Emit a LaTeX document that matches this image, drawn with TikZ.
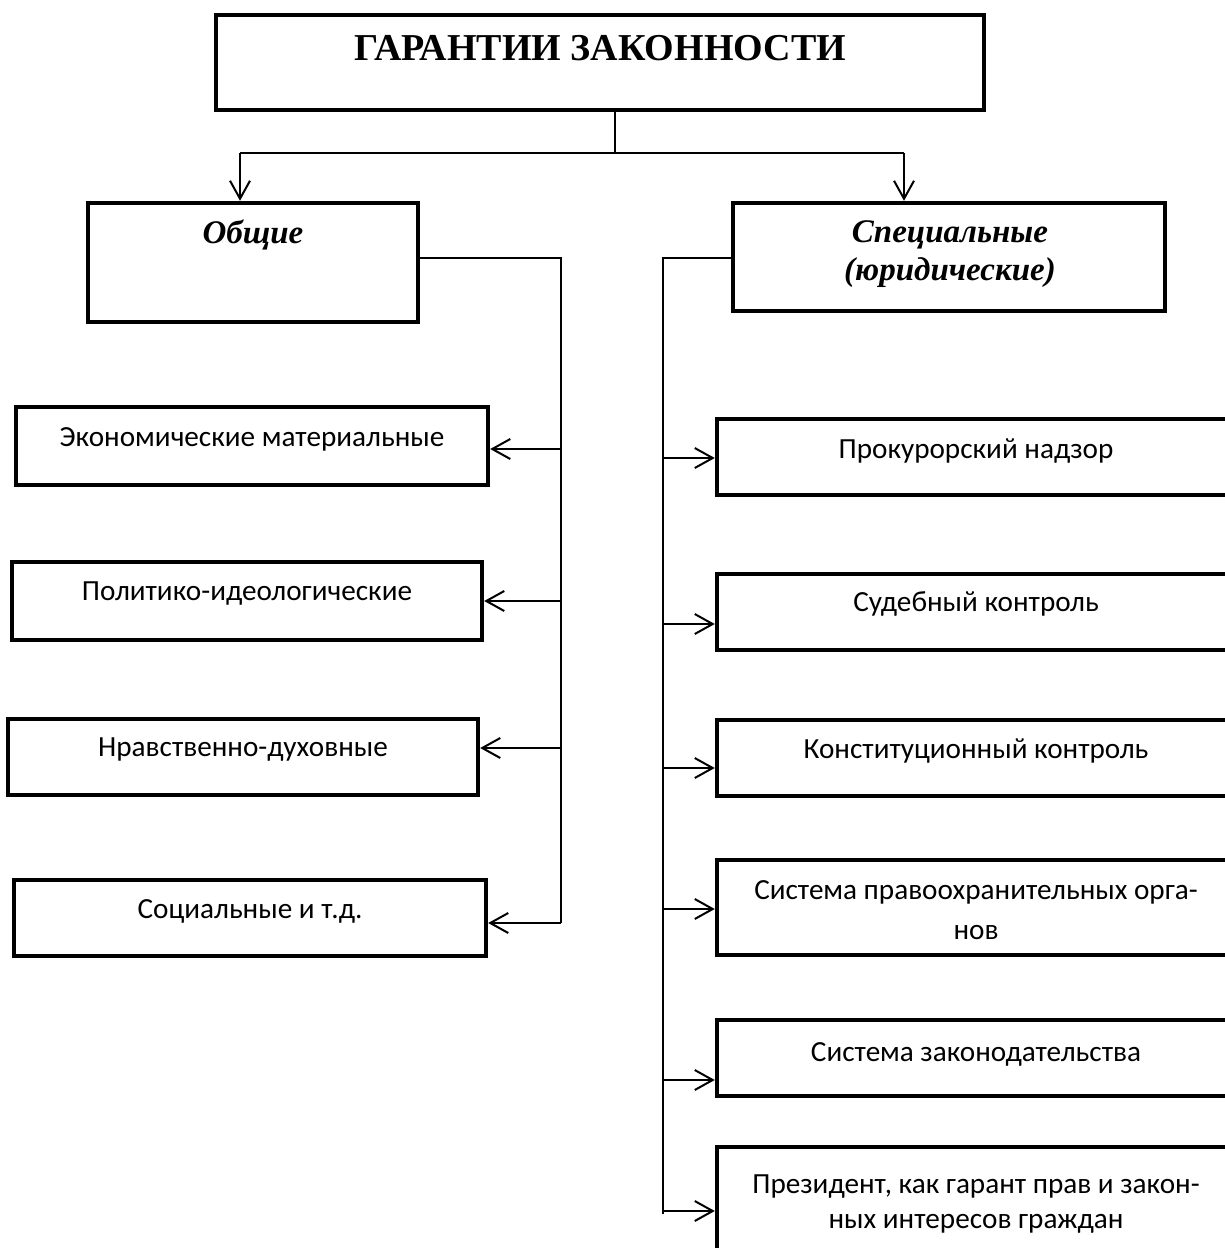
\documentclass[tikz,border=0pt]{standalone}
\usepackage{fontspec}
\setmainfont{Liberation Serif}
\newfontfamily\calfont{Carlito}
\usetikzlibrary{arrows.meta,fit}
\tikzset{
  box/.style={draw, line width=2.2pt, inner sep=0pt, rectangle},
  conn/.style={line width=1pt},
  arr/.style={conn, -{Straight Barb[length=9pt,width=10pt,line width=1pt]}},
  titletxt/.style={font=\fontsize{19}{22}\selectfont\bfseries, inner sep=0pt},
  headtxt/.style={font=\fontsize{16.5}{20}\selectfont\bfseries\itshape, inner sep=0pt},
  itemtxt/.style={font=\calfont\fontsize{14.6}{20}\selectfont, inner sep=0pt},
}
\begin{document}
\begin{tikzpicture}[x=0.5pt, y=-0.5pt]
\useasboundingbox (0,0) rectangle (1225,1248);
\clip (0,0) rectangle (1225,1248);
% boxes
\node[box, fit={(216,15) (984,110)}] (top) {};
\node[titletxt] (toptxt) at (600,48) {ГАРАНТИИ ЗАКОННОСТИ};
\node[box, fit={(88,203) (418,322)}] (obsh) {};
\node[headtxt] (obshtxt) at (253,235) {Общие};
\node[box, fit={(733,203) (1165,311)}] (spec) {};
\node[headtxt] (spectxt1) at (950,235) {Специальные};
\node[headtxt] (spectxt2) at (950,273) {(юридические)};
% left column
\node[box, fit={(16,407) (488,485)}] (L1) {};
\node[itemtxt] (L1t) at (252,439) {Экономические материальные};
\node[box, fit={(12,562) (482,640)}] (L2) {};
\node[itemtxt] (L2t) at (247,594) {Политико-идеологические};
\node[box, fit={(8,719) (478,795)}] (L3) {};
\node[itemtxt] (L3t) at (243,750) {Нравственно-духовные};
\node[box, fit={(14,880) (486,956)}] (L4) {};
\node[itemtxt] (L4t) at (250,911) {Социальные и т.д.};
% right column
\node[box, fit={(717,419) (1240,495)}] (R1) {};
\node[itemtxt] (R1t) at (976,451) {Прокурорский надзор};
\node[box, fit={(717,574) (1240,650)}] (R2) {};
\node[itemtxt] (R2t) at (976,604) {Судебный контроль};
\node[box, fit={(717,720) (1240,796)}] (R3) {};
\node[itemtxt] (R3t) at (976,751) {Конституционный контроль};
\node[box, fit={(717,860) (1240,955)}] (R4) {};
\node[itemtxt] (R4t1) at (976,892) {Система правоохранительных орга-};
\node[itemtxt] (R4t2) at (976,933) {нов};
\node[box, fit={(717,1020) (1240,1096)}] (R5) {};
\node[itemtxt] (R5t) at (976,1054) {Система законодательства};
\node[box, fit={(717,1147) (1240,1262)}] (R6) {};
\node[itemtxt] (R6t1) at (976,1187) {Президент, как гарант прав и закон-};
\node[itemtxt] (R6t2) at (976,1224) {ных интересов граждан};
% top branching
\coordinate (j) at (615,153);
\coordinate (jl) at (240,153);
\coordinate (jr) at (904,153);
\draw[conn] (top.south -| j) -- (j);
\draw[conn] (jl) -- (jr);
\draw[arr] (jl) -- (jl |- obsh.north);
\draw[arr] (jr) -- (jr |- spec.north);
% left connector
\coordinate (lt) at (561,258);
\coordinate (a1) at (561,449);
\coordinate (a2) at (561,601);
\coordinate (a3) at (561,748);
\coordinate (a4) at (561,923);
\draw[conn] (obsh.east |- lt) -- (lt) -- (a4);
\draw[arr] (a1) -- (a1 -| L1.east);
\draw[arr] (a2) -- (a2 -| L2.east);
\draw[arr] (a3) -- (a3 -| L3.east);
\draw[arr] (a4) -- (a4 -| L4.east);
% right connector
\coordinate (rt) at (663,258);
\coordinate (b1) at (663,458);
\coordinate (b2) at (663,624);
\coordinate (b3) at (663,768);
\coordinate (b4) at (663,909);
\coordinate (b5) at (663,1080);
\coordinate (b6) at (663,1211);
\coordinate (rb) at (663,1214);
\draw[conn] (spec.west |- rt) -- (rt) -- (rb);
\draw[arr] (b1) -- (b1 -| R1.west);
\draw[arr] (b2) -- (b2 -| R2.west);
\draw[arr] (b3) -- (b3 -| R3.west);
\draw[arr] (b4) -- (b4 -| R4.west);
\draw[arr] (b5) -- (b5 -| R5.west);
\draw[arr] (b6) -- (b6 -| R6.west);
\end{tikzpicture}
\end{document}
